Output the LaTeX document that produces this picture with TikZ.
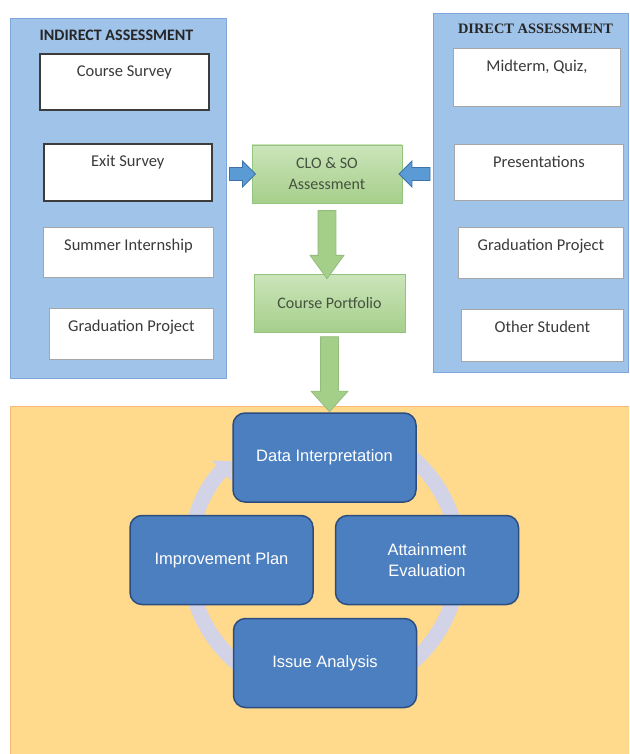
\documentclass[tikz,border=0pt]{standalone}
\usepackage{fontspec}
\setmainfont{Carlito}
\newfontfamily\titleserif{Liberation Serif}
\newfontfamily\cyclefont{Liberation Sans}
\usetikzlibrary{positioning, calc, shapes.arrows, arrows.meta}

\definecolor{panelblue}{HTML}{A0C3EA}
\definecolor{panelline}{HTML}{7EA6DC}
\definecolor{itemline}{HTML}{A6A6A6}
\definecolor{darkline}{HTML}{3C3C3C}
\definecolor{itemtext}{HTML}{3A3A3A}
\definecolor{greentop}{HTML}{CBE5BA}
\definecolor{greenbot}{HTML}{A6CF8B}
\definecolor{greenline}{HTML}{93C47D}
\definecolor{greentext}{HTML}{45523F}
\definecolor{arrowgreen}{HTML}{A4CF88}
\definecolor{arrowblue}{HTML}{5B9BD5}
\definecolor{arrowblueline}{HTML}{3F72A8}
\definecolor{orangefill}{HTML}{FFD98C}
\definecolor{orangeline}{HTML}{F6B97A}
\definecolor{cyclefill}{HTML}{4C7FBF}
\definecolor{cycleline}{HTML}{2C4D80}
\definecolor{ringgrey}{HTML}{D2D3E6}

\begin{document}
\begin{tikzpicture}[x=1pt, y=1pt,
    panel/.style={draw=panelline, fill=panelblue, line width=1pt, anchor=north west, inner sep=0pt},
    item node/.style={draw=itemline, fill=white, line width=0.9pt, anchor=north west, inner xsep=0pt, inner ysep=3pt,
        text height=20pt, text=itemtext, font=\fontsize{16.5}{20}\selectfont},
    dark node/.style={item node, draw=darkline, line width=1.6pt},
    green node/.style={draw=greenline, top color=greentop, bottom color=greenbot, line width=0.9pt, align=center,
        minimum width=150pt, minimum height=58pt, text=greentext, font=\fontsize{16}{21}\selectfont},
    cycle node/.style={draw=cycleline, fill=cyclefill, line width=1.5pt, rounded corners=12pt, align=center,
        minimum width=183pt, minimum height=89pt, text=white, font=\cyclefont\fontsize{16.5}{20.5}\selectfont},
    block arrow/.style={single arrow, inner xsep=0pt, line width=0.8pt},
    blue arrow/.style={block arrow, draw=arrowblueline, fill=arrowblue, inner ysep=6pt, single arrow head extend=6.5pt},
    green arrow/.style={block arrow, draw=arrowgreen!85!black!60!arrowgreen, fill=arrowgreen, inner ysep=8.5pt}
]
\useasboundingbox (0,0) rectangle (629,-754);
\clip (0,0) rectangle (629,-754);
\fill[white] (0,0) rectangle (629,-754);

% Panels
\node[panel, minimum width=216pt, minimum height=360pt] (ind) at (10,-18) {};
\node[panel, minimum width=195pt, minimum height=359pt] (dir) at (433,-13) {};
\node[panel, draw=orangeline, fill=orangefill, minimum width=630pt, minimum height=360pt] (qa) at (10,-406) {};

\node[font=\bfseries\fontsize{16}{16}\selectfont, text=black!85] (indt) at (116.5,-35) {INDIRECT ASSESSMENT};
\node[font=\titleserif\bfseries\fontsize{14.4}{15}\selectfont, text=black!85] (dirt) at (535.5,-28.5) {DIRECT ASSESSMENT};

% Indirect items
\node[dark node, minimum width=169pt, text depth=30pt] (cs) at (39,-53) {Course Survey};
\node[dark node, minimum width=168pt, text depth=31pt] (es) at (43,-143) {Exit Survey};
\node[item node, minimum width=170pt, text depth=24pt] (si) at (43,-227) {Summer Internship};
\node[item node, minimum width=164pt, text depth=25pt] (gp) at (49,-308) {Graduation Project};

% Direct items
\node[item node, minimum width=167pt, text depth=32pt] (mq) at (453,-48) {Midterm, Quiz,};
\node[item node, minimum width=169pt, text depth=30pt] (pr) at (454,-144) {Presentations};
\node[item node, minimum width=165pt, text depth=25pt] (gpd) at (458,-227) {Graduation Project};
\node[item node, minimum width=162pt, text depth=26pt] (os) at (461,-309) {Other Student};

% Centre column
\node[green node] (clo) at (327,-174) {CLO \& SO\\Assessment};
\node[green node, minimum width=151pt] (cp) at (329.5,-303) {Course Portfolio};

\node[blue arrow, minimum height=26pt] (a1) at ($(ind.east |- clo.west)!0.5!(clo.west)$) {};
\node[blue arrow, minimum height=31pt, rotate=180] (a2) at ($(dir.west |- clo.east)!0.5!(clo.east)$) {};
\node[green arrow, minimum height=68pt, single arrow head extend=8pt, single arrow tip angle=72, rotate=-90] (a3)
    at ($(clo.south)!0.5!(clo.south |- cp.north)$) {};
\node[green arrow, minimum height=75pt, single arrow head extend=9.5pt, single arrow tip angle=84, rotate=-90] (a4)
    at ($(cp.south)!0.5!(cp.south |- qa.north)$) {};

% Cycle
\coordinate (cyc) at (324,-560);
\draw[ringgrey, line width=15pt, -{Triangle[width=27pt, length=14pt]}]
    (cyc) ++(60:135) arc[start angle=60, end angle=-227, radius=135];

\node[cycle node] (di) at (324.5,-457.5) {Data Interpretation};
\node[cycle node] (ip) at (221.5,-560) {Improvement Plan};
\node[cycle node] (ae) at (427,-560) {Attainment\\Evaluation};
\node[cycle node] (ia) at (325,-663) {Issue Analysis};

\end{tikzpicture}
\end{document}
